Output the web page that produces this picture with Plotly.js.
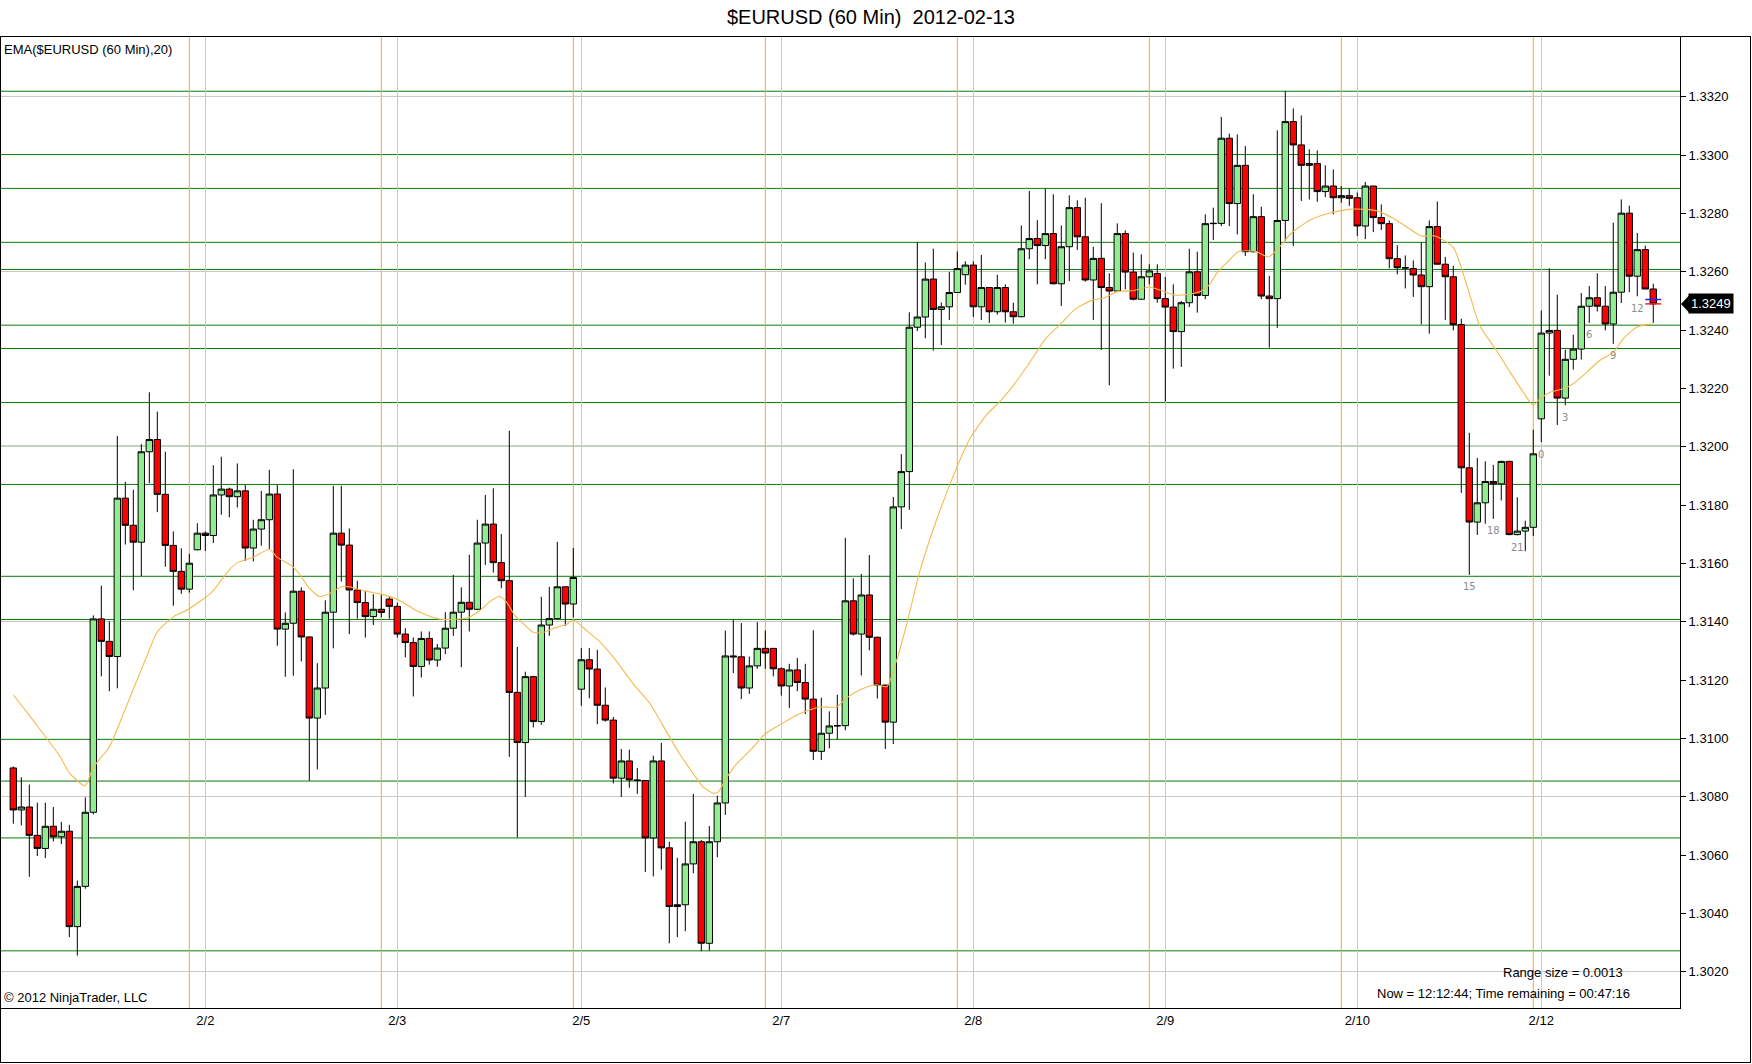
<!DOCTYPE html>
<html><head><meta charset="utf-8">
<script src="https://cdn.plot.ly/plotly-3.0.1.min.js"></script>
<style>
html,body{margin:0;padding:0;background:#fff;}
#chart{width:1752px;height:1064px;}
#frame{position:absolute;left:0;top:36px;width:1751px;height:1027px;box-sizing:border-box;border:1px solid #000;pointer-events:none;}
</style></head>
<body><div id="chart"></div><div id="frame"></div>
<script>
// ---- DATA (hourly bars, index 0..205) ----
const openP = [1.30899,1.30755,1.30765,1.30668,1.30623,1.30699,1.30663,1.30682,1.30355,1.30493,
1.30747,1.31410,1.31333,1.31281,1.31824,1.31731,1.31673,1.31983,1.32025,1.31837,
1.31662,1.31573,1.31512,1.31647,1.31704,1.31696,1.31835,1.31855,1.31829,1.31849,
1.31653,1.31718,1.31750,1.31838,1.31375,1.31395,1.31505,1.31348,1.31070,1.31173,
1.31433,1.31704,1.31663,1.31509,1.31466,1.31418,1.31443,1.31478,1.31453,1.31358,
1.31329,1.31247,1.31343,1.31269,1.31310,1.31378,1.31433,1.31467,1.31443,1.31670,
1.31735,1.31603,1.31541,1.31158,1.30986,1.31212,1.31058,1.31389,1.31411,1.31520,
1.31461,1.31169,1.31270,1.31238,1.31114,1.31063,1.30864,1.30923,1.30858,1.30856,
1.30659,1.30923,1.30625,1.30424,1.30430,1.30570,1.30646,1.30298,1.30646,1.30779,
1.31283,1.31280,1.31173,1.31249,1.31309,1.31309,1.31239,1.31180,1.31235,1.31192,
1.31135,1.30956,1.31018,1.31043,1.31044,1.31472,1.31358,1.31492,1.31347,1.31183,
1.31056,1.31794,1.31915,1.32410,1.32445,1.32575,1.32471,1.32480,1.32529,1.32590,
1.32623,1.32480,1.32546,1.32463,1.32546,1.32463,1.32446,1.32679,1.32714,1.32690,
1.32731,1.32559,1.32686,1.32820,1.32720,1.32572,1.32646,1.32546,1.32534,1.32731,
1.32599,1.32506,1.32583,1.32594,1.32508,1.32479,1.32395,1.32494,1.32600,1.32519,
1.32765,1.32766,1.33058,1.32834,1.32965,1.32669,1.32789,1.32517,1.32508,1.32776,
1.33115,1.33035,1.32965,1.32971,1.32875,1.32894,1.32854,1.32861,1.32854,1.32757,
1.32894,1.32786,1.32765,1.32645,1.32614,1.32611,1.32589,1.32549,1.32755,1.32626,
1.32583,1.32419,1.31928,1.31742,1.31808,1.31881,1.31873,1.31950,1.31699,1.31711,
1.31724,1.32096,1.32390,1.32399,1.32167,1.32300,1.32335,1.32482,1.32511,1.32482,
1.32421,1.32530,1.32801,1.32585,1.32676,1.32541];
const highP = [1.30904,1.30867,1.30842,1.30780,1.30780,1.30765,1.30714,1.30704,1.30513,1.30798,
1.31422,1.31524,1.31402,1.32037,1.31880,1.31853,1.32009,1.32187,1.32121,1.31983,
1.31710,1.31652,1.31633,1.31738,1.31710,1.31937,1.31966,1.31860,1.31943,1.31870,
1.31750,1.31849,1.31921,1.31870,1.31432,1.31923,1.31518,1.31350,1.31258,1.31474,
1.31866,1.31866,1.31720,1.31541,1.31506,1.31495,1.31493,1.31486,1.31466,1.31378,
1.31346,1.31367,1.31367,1.31324,1.31433,1.31561,1.31518,1.31630,1.31750,1.31835,
1.31858,1.31701,1.32055,1.31314,1.31229,1.31215,1.31486,1.31520,1.31674,1.31520,
1.31653,1.31310,1.31310,1.31304,1.31175,1.31074,1.30964,1.30962,1.30899,1.30858,
1.30941,1.30985,1.30646,1.30591,1.30715,1.30810,1.30652,1.30700,1.30804,1.31370,
1.31408,1.31396,1.31281,1.31399,1.31370,1.31310,1.31244,1.31256,1.31276,1.31256,
1.31371,1.31140,1.31093,1.31150,1.31688,1.31549,1.31564,1.31629,1.31349,1.31185,
1.31828,1.31975,1.32461,1.32702,1.32632,1.32679,1.32495,1.32600,1.32670,1.32636,
1.32636,1.32658,1.32548,1.32590,1.32557,1.32494,1.32759,1.32877,1.32777,1.32886,
1.32866,1.32759,1.32862,1.32845,1.32854,1.32686,1.32835,1.32595,1.32766,1.32742,
1.32666,1.32660,1.32626,1.32626,1.32582,1.32557,1.32500,1.32679,1.32669,1.32797,
1.32820,1.33131,1.33074,1.33071,1.33031,1.32866,1.32823,1.32586,1.33085,1.33220,
1.33160,1.33136,1.33020,1.33016,1.32965,1.32951,1.32894,1.32886,1.32872,1.32908,
1.32895,1.32831,1.32776,1.32691,1.32656,1.32639,1.32702,1.32776,1.32841,1.32651,
1.32621,1.32439,1.32048,1.31962,1.31950,1.31938,1.31952,1.31952,1.31827,1.31747,
1.32059,1.32467,1.32612,1.32521,1.32333,1.32384,1.32527,1.32551,1.32595,1.32551,
1.32768,1.32848,1.32827,1.32733,1.32690,1.32559];
const lowP = [1.30708,1.30702,1.30526,1.30597,1.30590,1.30647,1.30638,1.30319,1.30256,1.30485,
1.30740,1.31213,1.31162,1.31172,1.31665,1.31508,1.31557,1.31875,1.31776,1.31589,
1.31455,1.31496,1.31500,1.31645,1.31643,1.31670,1.31767,1.31758,1.31792,1.31609,
1.31607,1.31661,1.31649,1.31318,1.31212,1.31215,1.31264,1.30855,1.30894,1.31081,
1.31309,1.31538,1.31358,1.31411,1.31346,1.31389,1.31415,1.31411,1.31346,1.31278,
1.31144,1.31209,1.31253,1.31246,1.31289,1.31352,1.31244,1.31367,1.31440,1.31595,
1.31569,1.31515,1.30937,1.30661,1.30800,1.31038,1.31047,1.31352,1.31409,1.31386,
1.31415,1.31112,1.31138,1.31049,1.31058,1.30846,1.30800,1.30831,1.30810,1.30542,
1.30527,1.30550,1.30298,1.30319,1.30339,1.30538,1.30271,1.30273,1.30593,1.30738,
1.31224,1.31135,1.31153,1.31239,1.31239,1.31213,1.31147,1.31105,1.31162,1.31084,
1.30926,1.30926,1.30966,1.30997,1.31028,1.31353,1.31216,1.31302,1.31137,1.30964,
1.30981,1.31718,1.31784,1.32397,1.32372,1.32330,1.32349,1.32435,1.32527,1.32556,
1.32445,1.32435,1.32425,1.32453,1.32426,1.32422,1.32444,1.32643,1.32557,1.32643,
1.32557,1.32483,1.32568,1.32675,1.32566,1.32435,1.32332,1.32211,1.32533,1.32540,
1.32502,1.32505,1.32557,1.32494,1.32155,1.32268,1.32274,1.32479,1.32460,1.32506,
1.32709,1.32757,1.32757,1.32728,1.32654,1.32666,1.32506,1.32340,1.32408,1.32706,
1.32688,1.32843,1.32848,1.32840,1.32856,1.32797,1.32837,1.32826,1.32723,1.32712,
1.32736,1.32743,1.32612,1.32591,1.32543,1.32514,1.32420,1.32388,1.32626,1.32435,
1.32399,1.31842,1.31561,1.31698,1.31736,1.31753,1.31816,1.31697,1.31696,1.31642,
1.31694,1.32016,1.32244,1.32075,1.32142,1.32265,1.32299,1.32425,1.32464,1.32399,
1.32353,1.32493,1.32530,1.32516,1.32541,1.32425];
const closeP = [1.30755,1.30765,1.30668,1.30623,1.30699,1.30663,1.30682,1.30355,1.30493,1.30747,
1.31410,1.31333,1.31281,1.31824,1.31731,1.31673,1.31983,1.32025,1.31837,1.31662,
1.31573,1.31512,1.31601,1.31704,1.31696,1.31835,1.31855,1.31829,1.31849,1.31653,
1.31718,1.31750,1.31838,1.31375,1.31395,1.31505,1.31348,1.31070,1.31173,1.31433,
1.31704,1.31663,1.31509,1.31466,1.31418,1.31443,1.31432,1.31453,1.31358,1.31329,
1.31247,1.31343,1.31269,1.31310,1.31378,1.31433,1.31467,1.31443,1.31670,1.31735,
1.31603,1.31541,1.31158,1.30986,1.31212,1.31058,1.31389,1.31411,1.31520,1.31461,
1.31552,1.31270,1.31238,1.31114,1.31063,1.30864,1.30923,1.30858,1.30856,1.30659,
1.30923,1.30625,1.30424,1.30430,1.30570,1.30646,1.30298,1.30646,1.30779,1.31283,
1.31280,1.31173,1.31249,1.31309,1.31293,1.31239,1.31180,1.31235,1.31192,1.31135,
1.30956,1.31018,1.31043,1.31044,1.31472,1.31358,1.31492,1.31347,1.31183,1.31056,
1.31794,1.31915,1.32410,1.32445,1.32575,1.32471,1.32480,1.32529,1.32611,1.32623,
1.32480,1.32546,1.32463,1.32546,1.32463,1.32446,1.32679,1.32714,1.32690,1.32731,
1.32559,1.32686,1.32820,1.32720,1.32572,1.32646,1.32546,1.32534,1.32731,1.32599,
1.32506,1.32583,1.32603,1.32508,1.32479,1.32395,1.32494,1.32600,1.32519,1.32765,
1.32766,1.33058,1.32834,1.32965,1.32669,1.32789,1.32517,1.32508,1.32776,1.33115,
1.33035,1.32965,1.32971,1.32875,1.32894,1.32854,1.32861,1.32852,1.32757,1.32894,
1.32786,1.32765,1.32645,1.32614,1.32613,1.32589,1.32549,1.32755,1.32626,1.32583,
1.32419,1.31928,1.31742,1.31808,1.31881,1.31873,1.31950,1.31699,1.31711,1.31724,
1.31976,1.32390,1.32399,1.32167,1.32300,1.32335,1.32482,1.32511,1.32482,1.32421,
1.32530,1.32801,1.32585,1.32676,1.32541,1.32490];

// EMA(20) (bar position, value)
const emaBars = [0,2.5,5.8,7,8.5,9,10,12,13.5,15,16.7,18,20,22,24.8,26.9,28,30,32,33,34.8,35.8,36.9,38.3,39.4,41,42,43.9,46,48.1,50.3,52.5,53.7,56.7,58.3,59.6,60.8,61.7,62.7,63.8,65,66.25,67.9,69.2,70,71.7,73.3,75.2,77.5,79.6,81.7,83.3,85,86.25,87.5,88.1,89.2,90.4,92.1,94,96,98.3,100.8,102.9,104.2,106.2,107.9,109.2,110.4,111.7,113.3,115.4,117.9,119.6,121.7,123.3,124.8,126.9,129,131.1,132.7,134.8,136.4,138,140.1,142,143.5,145.2,146.9,148.5,149.5,150.5,151.9,153.1,155.2,156.9,158.2,159.8,162.3,164.8,166.9,169,170.6,172.3,174,176,177.7,180,181.7,183.3,185.4,187.1,188.75,190,190.8,192.1,193.75,195,196.7,198.3,200,201.25,202.9,204.2,205];
const emaValues = [1.31150,1.31061,1.30940,1.30882,1.30844,1.30838,1.30901,1.30971,1.31067,1.31169,1.31283,1.31366,1.31417,1.31445,1.31501,1.31575,1.31603,1.31621,1.31649,1.31621,1.31592,1.31563,1.31518,1.31486,1.31495,1.31520,1.31520,1.31506,1.31495,1.31476,1.31440,1.31415,1.31408,1.31413,1.31438,1.31470,1.31487,1.31466,1.31421,1.31392,1.31364,1.31364,1.31381,1.31392,1.31406,1.31369,1.31332,1.31272,1.31187,1.31119,1.31021,1.30947,1.30879,1.30833,1.30812,1.30816,1.30867,1.30913,1.30959,1.31016,1.31050,1.31085,1.31108,1.31108,1.31140,1.31171,1.31184,1.31178,1.31267,1.31394,1.31572,1.31749,1.31927,1.32029,1.32111,1.32155,1.32203,1.32283,1.32369,1.32426,1.32471,1.32502,1.32511,1.32532,1.32536,1.32548,1.32536,1.32520,1.32523,1.32534,1.32555,1.32598,1.32637,1.32669,1.32671,1.32651,1.32683,1.32734,1.32780,1.32803,1.32814,1.32814,1.32808,1.32786,1.32757,1.32723,1.32723,1.32684,1.32553,1.32416,1.32330,1.32256,1.32187,1.32142,1.32164,1.32187,1.32199,1.32216,1.32256,1.32296,1.32324,1.32370,1.32410,1.32419,1.32421];

const dateTickBars = [24,48,71,96,120,144,168,191];
const dateTickLabels = ['2/2','2/3','2/5','2/7','2/8','2/9','2/10','2/12'];
const priceTicks = [1.3020,1.3040,1.3060,1.3080,1.3100,1.3120,1.3140,1.3160,1.3180,1.3200,1.3220,1.3240,1.3260,1.3280,1.3300,1.3320];
const sessionBreakBars = [22,46,70,94,118,142,166,190];
const levelPrices = [1.33219,1.33002,1.32886,1.32701,1.32608,1.32417,1.32337,1.32152,1.32002,1.31871,1.31556,1.31408,1.30997,1.30854,1.30659,1.30272];
const hourBars = [182,185,188,191,194,197,200,203];
const hourText = ['15','18','21','0','3','6','9','12'];
const lastAsk = 1.32505;
const yMin = 1.30076, yMax = 1.33405;

// ---- CHART ----
const FONT = 'Liberation Sans, Arial, sans-serif';
const bars = openP.map((_, i) => i);
const last = bars.length - 1;
const lastClose = closeP[last];

const traces = [
  {type:'candlestick', x:bars, open:openP, high:highP, low:lowP, close:closeP,
   increasing:{fillcolor:'#90ee90', line:{color:'#000', width:1}},
   decreasing:{fillcolor:'#ff0000', line:{color:'#000', width:1}},
   whiskerwidth:0, hoverinfo:'skip', showlegend:false},
  {type:'scatter', mode:'lines', x:emaBars, y:emaValues,
   line:{color:'rgb(244,186,78)', width:1.1, shape:'spline', smoothing:0.6},
   hoverinfo:'skip', showlegend:false},
  {type:'scatter', mode:'markers', x:[0], y:[lastClose], yaxis:'y2',
   marker:{opacity:0}, hoverinfo:'skip', showlegend:false}
];

const shapes = [];
levelPrices.forEach(p => shapes.push({type:'line', xref:'paper', x0:0, x1:1, yref:'y', y0:p, y1:p,
  line:{color:'#0a7d0a', width:1}, layer:'between'}));
sessionBreakBars.forEach(b => shapes.push({type:'line', xref:'x', x0:b, x1:b, yref:'paper', y0:0, y1:1,
  line:{color:'rgb(245,168,40)', width:1}, layer:'between'}));
shapes.push({type:'line', xref:'x', x0:last-1, x1:last+1, yref:'y', y0:lastAsk, y1:lastAsk, line:{color:'#2020ff', width:1.5}, layer:'above'});
shapes.push({type:'line', xref:'x', x0:last-1, x1:last+1, yref:'y', y0:lastClose, y1:lastClose, line:{color:'#ff2020', width:1.5}, layer:'above'});
shapes.push({type:'path', xref:'paper', yref:'y', xsizemode:'pixel', ysizemode:'pixel', xanchor:1, yanchor:lastClose,
  path:'M 1 0 L 9 8.5 L 9 -8.5 Z', fillcolor:'#000', line:{width:0}, layer:'above'});

const annotations = [
  {xref:'paper', yref:'paper', x:0, y:1, xanchor:'left', yanchor:'top', xshift:1, yshift:-3, showarrow:false,
   text:'EMA($EURUSD (60 Min),20)', font:{family:FONT, size:13, color:'#000'}},
  {xref:'paper', yref:'paper', x:0, y:0, xanchor:'left', yanchor:'bottom', xshift:1, yshift:1, showarrow:false,
   text:'© 2012 NinjaTrader, LLC', font:{family:FONT, size:13, color:'#000'}},
  {xref:'paper', yref:'paper', x:0.9673, y:0, xanchor:'right', yanchor:'middle', yshift:36, showarrow:false,
   text:'Range size = 0.0013', font:{family:FONT, size:13, color:'#000'}},
  {xref:'paper', yref:'paper', x:0.9714, y:0, xanchor:'right', yanchor:'middle', yshift:15, showarrow:false,
   text:'Now = 12:12:44; Time remaining = 00:47:16', font:{family:FONT, size:13, color:'#000'}},
  {xref:'paper', yref:'y', x:1, y:lastClose, xanchor:'left', yanchor:'middle', xshift:8, showarrow:false,
   text:lastClose.toFixed(4), bgcolor:'#000', borderpad:2, font:{family:FONT, size:13, color:'#fff'}}
];
hourBars.forEach((b, k) => annotations.push({xref:'x', yref:'y', x:b, y:lowP[b], yanchor:'middle', yshift:-12,
  showarrow:false, text:hourText[k], font:{family:'DejaVu Sans, sans-serif', size:10, color:'#8c8c8c'}}));

const layout = {
  width:1752, height:1064,
  margin:{l:1, r:72, t:37, b:56, pad:0},
  paper_bgcolor:'rgba(0,0,0,0)', plot_bgcolor:'#fff',
  showlegend:false, hovermode:false, boxgap:0.2, boxgroupgap:0,
  title:{text:'$EURUSD (60 Min)\u00a0\u00a02012-02-13', font:{family:FONT, size:20, color:'#000'},
         xref:'container', x:0.4971, xanchor:'center', yref:'container', y:0.984, yanchor:'middle'},
  xaxis:{range:[-1.54, 208.34], tickmode:'array', tickvals:dateTickBars, ticktext:dateTickLabels,
         showgrid:true, gridcolor:'#c8c8c8', gridwidth:1, zeroline:false,
         showline:true, linecolor:'#000', linewidth:1, mirror:true, ticks:'',
         tickfont:{family:FONT, size:13, color:'#000'}, rangeslider:{visible:false}, fixedrange:true},
  yaxis:{range:[yMin, yMax], side:'right', tickmode:'array', tickvals:priceTicks, tickformat:'.4f',
         ticks:'outside', ticklen:5, tickcolor:'#000', showgrid:false, zeroline:false,
         showline:true, linecolor:'#000', linewidth:1, mirror:true,
         tickfont:{family:FONT, size:13, color:'#000'}, fixedrange:true},
  yaxis2:{overlaying:'y', range:[yMin, yMax], tick0:1.302, dtick:0.006, showgrid:true, gridcolor:'#c8c8c8',
          showticklabels:false, ticks:'', zeroline:false, showline:false, side:'left', fixedrange:true},
  shapes:shapes, annotations:annotations
};

Plotly.newPlot('chart', traces, layout, {staticPlot:true, displayModeBar:false});
</script>
</body></html>
